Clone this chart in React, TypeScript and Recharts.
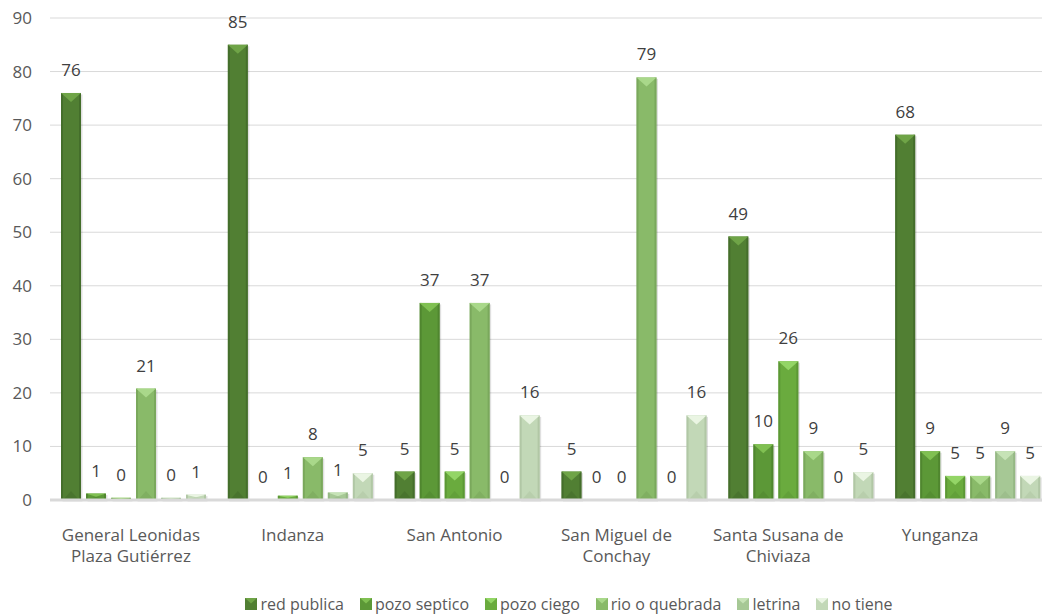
import { BarChart, Bar, XAxis, YAxis, CartesianGrid, Legend, LabelList } from 'recharts';

const CATEGORIES = [
  'General Leonidas\nPlaza Gutiérrez',
  'Indanza',
  'San Antonio',
  'San Miguel de\nConchay',
  'Santa Susana de\nChiviaza',
  'Yunganza',
];

const RED_PUBLICA = [76, 85, 5.3, 5.3, 49.2, 68.2];
const POZO_SEPTICO = [1.2, 0, 36.8, 0, 10.4, 9.1];
const POZO_CIEGO = [0.4, 0.8, 5.3, 0, 25.9, 4.5];
const RIO_O_QUEBRADA = [20.8, 8, 36.8, 78.9, 9.1, 4.5];
const LETRINA = [0.4, 1.4, 0, 0, 0, 9.1];
const NO_TIENE = [1, 5, 15.8, 15.8, 5.2, 4.5];

const Y_TICKS = [0, 10, 20, 30, 40, 50, 60, 70, 80, 90];

const SERIES = [
  { key: 'red publica', values: RED_PUBLICA, base: '#517f33', light: '#6fa447', dark: '#3c6226' },
  { key: 'pozo septico', values: POZO_SEPTICO, base: '#5c9837', light: '#80c052', dark: '#477a2a' },
  { key: 'pozo ciego', values: POZO_CIEGO, base: '#6aab3e', light: '#93d566', dark: '#548c30' },
  { key: 'rio o quebrada', values: RIO_O_QUEBRADA, base: '#89ba69', light: '#a9d88a', dark: '#6f9c53' },
  { key: 'letrina', values: LETRINA, base: '#a6c895', light: '#c6e3b6', dark: '#8bad7a' },
  { key: 'no tiene', values: NO_TIENE, base: '#c2d8b7', light: '#eaf5e3', dark: '#a5bc99' },
];

const data = CATEGORIES.map((name, i) => {
  const row: Record<string, string | number> = { name };
  SERIES.forEach(s => { row[s.key] = s.values[i]; });
  return row;
});

const FONT = '"Open Sans", "Noto Sans", sans-serif';

function BevelBar(props: any) {
  const { x, y, width: w, height: h, base, light, dark } = props;
  if (!h || h <= 0) return null;
  const d = Math.min(w * 0.45, h / 2);
  const cx = x + w / 2;
  const e = Math.min(2, w / 4);
  return (
    <g>
      <rect x={x + 1.5} y={y + 1.5} width={w} height={h} fill="#000" opacity={0.12} />
      <rect x={x} y={y} width={w} height={h} fill={base} />
      <rect x={x} y={y} width={e} height={h} fill={dark} opacity={0.6} />
      <rect x={x + w - e} y={y} width={e} height={h} fill={dark} opacity={0.6} />
      <polygon points={`${x + e},${y + h} ${x + w - e},${y + h} ${cx},${y + h - d}`} fill={dark} opacity={0.35} />
      <polygon points={`${x},${y} ${x + w},${y} ${cx},${y + d}`} fill={light} />
    </g>
  );
}

function CategoryTick(props: any) {
  const { x, y, payload, index } = props;
  const lines = String(payload.value).split('\n');
  // category labels sit slightly left of their bar groups, drifting across the axis
  const lx = x - 2.5 - 5 * (index ?? payload.index ?? 0);
  return (
    <text x={lx} y={y} textAnchor="middle" fill="#595959" fontSize={17} fontFamily={FONT}>
      {lines.map((line, i) => (
        <tspan key={i} x={lx} y={y + 33 + i * 21}>{line}</tspan>
      ))}
    </text>
  );
}

function LegendContent() {
  return (
    <div style={{ display: 'flex', justifyContent: 'center', gap: 16, height: 20, alignItems: 'center', fontFamily: FONT, fontSize: 16, color: '#595959' }}>
      {SERIES.map(s => (
        <div key={s.key} style={{ display: 'flex', alignItems: 'center' }}>
          <svg width={12} height={12} style={{ marginRight: 3 }}>
            <rect x={0} y={0} width={12} height={12} fill={s.base} />
            <polygon points="0,0 12,0 6,5.5" fill={s.light} />
          </svg>
          <span>{s.key}</span>
        </div>
      ))}
    </div>
  );
}

export default function App() {
  return (
    <div style={{ width: 1042, height: 614, background: '#fff', overflow: 'hidden', position: 'relative' }}>
      <style>{'body{margin:0}'}</style>
      <BarChart
        width={1051}
        height={614}
        data={data}
        margin={{ top: 18, right: 0, bottom: 0, left: 0 }}
        barSize={20}
        barGap={5}
      >
        <CartesianGrid vertical={false} stroke="#d9d9d9" />
        <XAxis
          dataKey="name"
          tick={<CategoryTick />}
          tickLine={false}
          axisLine={{ stroke: '#d9d9d9', strokeWidth: 3 }}
          height={94}
          interval={0}
        />
        <YAxis
          domain={[0, 90]}
          ticks={Y_TICKS}
          width={50}
          tickLine={false}
          axisLine={false}
          tickSize={0}
          tickMargin={18}
          tick={{ fill: '#595959', fontSize: 17, fontFamily: FONT }}
        />
        <Legend verticalAlign="bottom" height={20} content={<LegendContent />} wrapperStyle={{ left: 0, width: 1138 }} />
        {SERIES.map(s => (
          <Bar
            key={s.key}
            dataKey={s.key}
            isAnimationActive={false}
            fill={s.base}
            shape={(p: any) => <BevelBar {...p} base={s.base} light={s.light} dark={s.dark} />}
          >
            <LabelList
              dataKey={s.key}
              position="top"
              offset={17}
              formatter={(v: any) => Math.round(Number(v))}
              style={{ fill: '#404040', fontSize: 17, fontFamily: FONT }}
            />
          </Bar>
        ))}
      </BarChart>
    </div>
  );
}
